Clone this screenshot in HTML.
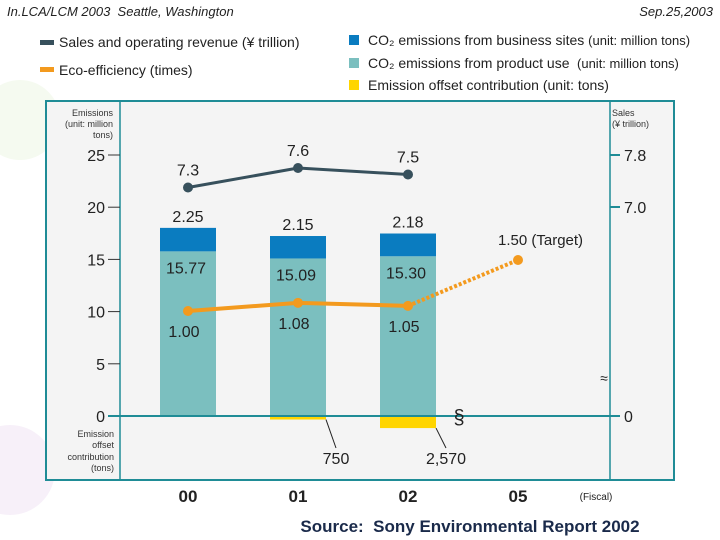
<!DOCTYPE html>
<html><head><meta charset="utf-8"><style>
body{margin:0;width:720px;height:540px;background:#fff;overflow:hidden;font-family:"Liberation Sans",sans-serif;position:relative}
.hdr{position:absolute;top:4px;font-size:13px;font-style:italic;color:#222}
</style></head><body>
<div class="hdr" style="left:7px">In.LCA/LCM 2003&nbsp; Seattle, Washington</div>
<div class="hdr" style="right:7px">Sep.25,2003</div>
<svg width="720" height="540" style="position:absolute;left:0;top:0" font-family="Liberation Sans, sans-serif">
<circle cx="20" cy="120" r="40" fill="#eef6e6" opacity="0.6"/>
<circle cx="10" cy="470" r="45" fill="#f4eaf6" opacity="0.7"/>
<g id="legend" font-size="14" fill="#222">
<rect x="40" y="40" width="14" height="5" fill="#37505c"/><text x="59" y="47">Sales and operating revenue (¥ trillion)</text>
<rect x="40" y="67" width="14" height="5" fill="#f39a1e"/><text x="59" y="75">Eco-efficiency (times)</text>
<rect x="349" y="35" width="10" height="10" fill="#0a7cc0"/><text x="368" y="45">CO₂ emissions from business sites <tspan font-size="13">(unit: million tons)</tspan></text>
<rect x="349" y="58" width="10" height="10" fill="#7bbfbf"/><text x="368" y="68">CO₂ emissions from product use <tspan font-size="13">&#160;(unit: million tons)</tspan></text>
<rect x="349" y="80" width="10" height="10" fill="#ffd500"/><text x="368" y="90">Emission offset contribution (unit: tons)</text>
</g>
<rect x="46" y="101" width="628" height="379" fill="#f4f4f4" stroke="#1f8c96" stroke-width="2"/>
<line x1="120" y1="101" x2="120" y2="480" stroke="#1f8c96" stroke-width="1.5"/>
<line x1="610" y1="101" x2="610" y2="480" stroke="#1f8c96" stroke-width="1.5"/>
<g font-size="9" fill="#333" text-anchor="end">
<text x="113" y="116">Emissions</text><text x="113" y="127">(unit: million</text><text x="113" y="138">tons)</text>
<text x="114" y="437">Emission</text><text x="114" y="448">offset</text><text x="114" y="460">contribution</text><text x="114" y="471">(tons)</text>
<text x="612" y="116" text-anchor="start">Sales</text><text x="612" y="127" text-anchor="start">(¥ trillion)</text>
</g>
<g id="axes"></g>
<g id="marks"></g>
<text x="470" y="532" font-size="17" font-weight="bold" fill="#1a2a4a" text-anchor="middle">Source:&#160; Sony Environmental Report 2002</text>
</svg>
<script>
const categories=["00","01","02","05"];
const productUse=[15.77,15.09,15.30];
const businessSites=[2.25,2.15,2.18];
const offsetTons=[0,750,2570];
const offsetLabels=["","750","2,570"];
const sales=[7.3,7.6,7.5];
const ecoEff=[1.00,1.08,1.05,1.50];
const leftTicks=[0,5,10,15,20,25];
const rightTicks=[7.0,7.8];

const NS="http://www.w3.org/2000/svg";
const xC=i=>188+110*i;
const yE=v=>416-v*10.44;
const yS=v=>207-(v-7.0)*65;
const yR=v=>311-(v-1)*102;
const yO=t=>416+t*0.0047;
const axes=document.getElementById('axes'),marks=document.getElementById('marks');
function mk(tag,a,p,txt){const e=document.createElementNS(NS,tag);for(const k in a)e.setAttribute(k,a[k]);if(txt!==undefined)e.textContent=txt;p.appendChild(e);return e;}

leftTicks.forEach(v=>{
 const y=yE(v);
 const l=mk('line',{x1:108,x2:120,y1:y,y2:y,stroke:'#333'},axes);
 
 
 const t=mk('text',{x:105,y:y+6,'font-size':16,'text-anchor':'end',fill:'#222'},axes,String(v));
 
 
});
rightTicks.forEach(v=>{
 const y=yS(v);
 mk('line',{x1:610,x2:620,y1:y,y2:y,stroke:'#1f8c96','stroke-width':2},axes);
 const t=mk('text',{x:624,y:y+6,'font-size':16,fill:'#222'},axes,v.toFixed(1));
 
 
});
mk('line',{x1:610,x2:620,y1:416,y2:416,stroke:'#1f8c96','stroke-width':2},axes);
mk('text',{x:624,y:422,'font-size':16,fill:'#222'},axes,'0');
categories.forEach((c,i)=>{
 const t=mk('text',{x:xC(i),y:502,'font-size':17,'font-weight':'bold','text-anchor':'middle',fill:'#222'},axes,c);
 
 
});
mk('text',{x:596,y:500,'font-size':10,'text-anchor':'middle',fill:'#222'},axes,'(Fiscal)');

productUse.forEach((v,i)=>{
 const x=xC(i)-28;
 const r=mk('rect',{x:x,y:yE(v),width:56,height:yE(0)-yE(v),fill:'#7bbfbf'},marks);
 
 
 const b=mk('rect',{x:x,y:yE(v+businessSites[i]),width:56,height:yE(v)-yE(v+businessSites[i]),fill:'#0a7cc0'},marks);
 
 
 mk('text',{x:xC(i),y:yE(v+businessSites[i])-6,'font-size':16,'text-anchor':'middle',fill:'#222'},marks,businessSites[i].toFixed(2));
 mk('text',{x:xC(i)-2,y:yE(v)+22,'font-size':16,'text-anchor':'middle',fill:'#222'},marks,v.toFixed(2));
 if(offsetTons[i]>0){
  const o=mk('rect',{x:x,y:416,width:56,height:yO(offsetTons[i])-416,fill:'#ffd500'},marks);
  
  
  mk('line',{x1:x+56,y1:yO(offsetTons[i]),x2:x+66,y2:448,stroke:'#222'},marks);
  mk('text',{x:x+66,y:464,'font-size':16,'text-anchor':'middle',fill:'#222'},marks,offsetLabels[i]);
 }
});
const zl=mk('line',{x1:108,x2:610,y1:416,y2:416,stroke:'#1f8c96','stroke-width':2},marks);


mk('text',{x:459,y:424,'font-size':20,'text-anchor':'middle',fill:'#222'},marks,'§');
mk('text',{x:604,y:383,'font-size':14,'text-anchor':'middle',fill:'#222'},marks,'≈');

const sp=mk('polyline',{points:sales.map((v,i)=>xC(i)+','+yS(v)).join(' '),fill:'none',stroke:'#37505c','stroke-width':3},marks);


sales.forEach((v,i)=>{
 const c=mk('circle',{cx:xC(i),cy:yS(v),r:5,fill:'#37505c'},marks);
 
 
 mk('text',{x:xC(i),y:yS(v)-12,'font-size':16,'text-anchor':'middle',fill:'#222'},marks,v.toFixed(1));
});
const ep=mk('polyline',{points:ecoEff.slice(0,3).map((v,i)=>xC(i)+','+yR(v)).join(' '),fill:'none',stroke:'#f39a1e','stroke-width':4},marks);


const ed=mk('line',{x1:xC(2),y1:yR(ecoEff[2]),x2:xC(3),y2:yR(ecoEff[3]),stroke:'#f39a1e','stroke-width':4,'stroke-dasharray':'3 2'},marks);


ecoEff.forEach((v,i)=>{
 const c=mk('circle',{cx:xC(i),cy:yR(v),r:5,fill:'#f39a1e'},marks);
 
 
 if(i<3) mk('text',{x:xC(i)-4,y:yR(v)+26,'font-size':16,'text-anchor':'middle',fill:'#222'},marks,v.toFixed(2));
 else mk('text',{x:xC(i)-20,y:yR(v)-15,'font-size':15,fill:'#222'},marks,v.toFixed(2)+' (Target)');
});
</script>
</body></html>
